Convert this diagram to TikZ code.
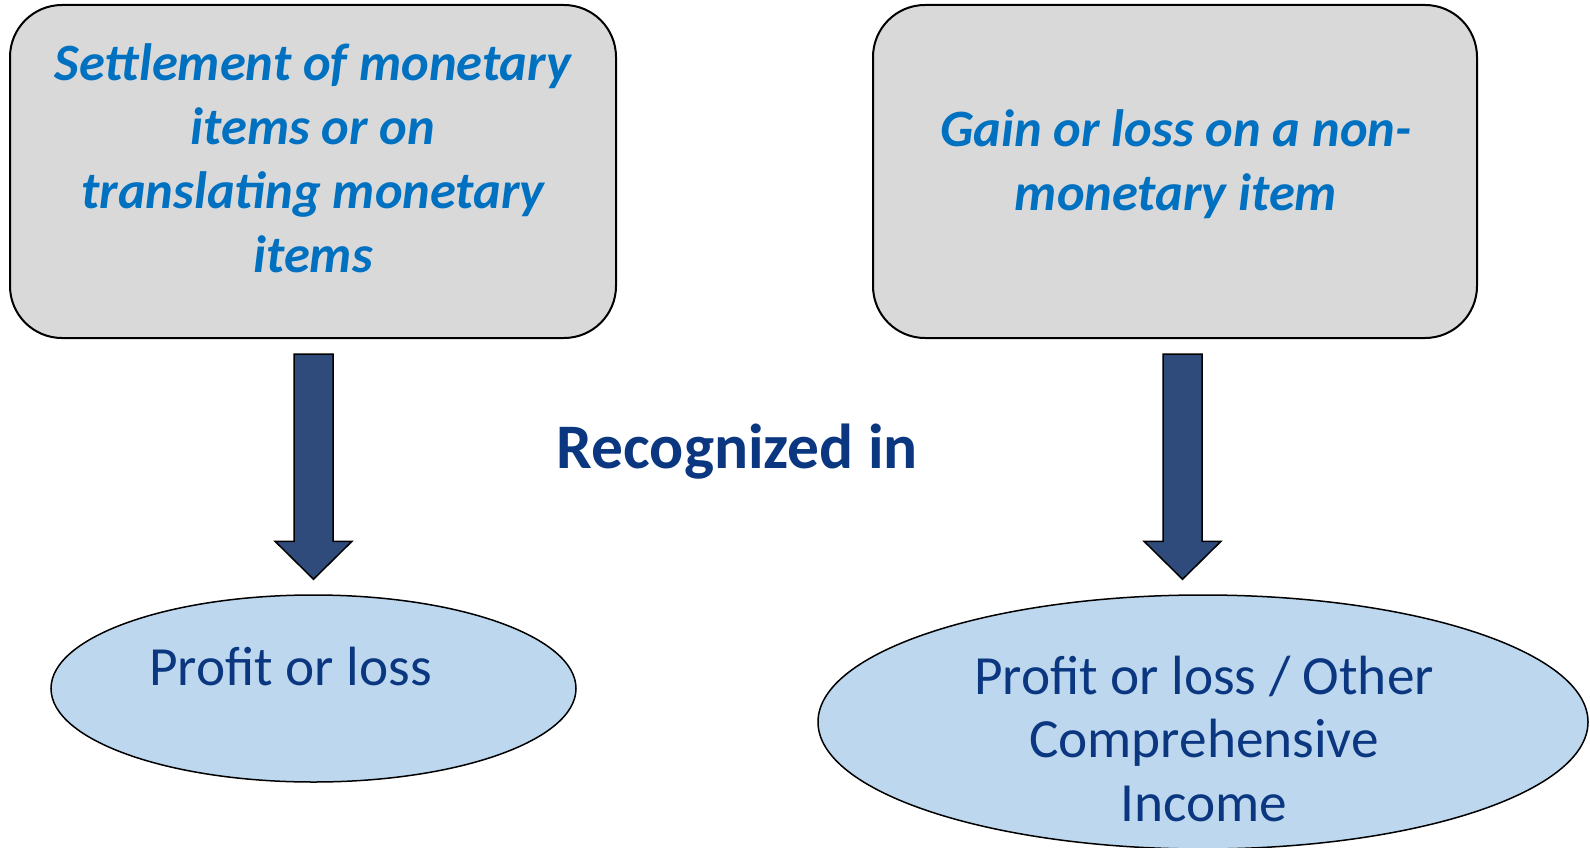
\documentclass[tikz,border=0pt]{standalone}
\usepackage{fontspec}
\setmainfont{Carlito}
\usetikzlibrary{calc,shapes.geometric}
\definecolor{boxgray}{HTML}{D9D9D9}
\definecolor{boxblue}{HTML}{0070C0}
\definecolor{ellfill}{HTML}{BDD7EE}
\definecolor{navy}{HTML}{0A3780}
\definecolor{arrowfill}{HTML}{2F4B7C}
\tikzset{
  srcbox/.style={draw=black, line width=2pt, fill=boxgray, rounded corners=52pt, inner sep=0pt},
  srctext/.style={text=boxblue, font=\fontsize{52.5}{64}\selectfont\bfseries\itshape, align=center, inner sep=0pt},
  dest/.style={ellipse, draw=black, line width=1.5pt, fill=ellfill, inner sep=0pt},
  desttext/.style={text=navy, font=\fontsize{55.3}{63.5}\selectfont, align=center, inner sep=0pt},
  bigarrow/.style={draw=black, line width=1.5pt, fill=arrowfill, line join=miter},
  midtext/.style={text=navy, font=\fontsize{63.5}{70}\selectfont\bfseries, inner sep=0pt}
}
\begin{document}
\begin{tikzpicture}[x=1pt,y=-1pt]
\useasboundingbox (0,0) rectangle (1590,848);
% source boxes
\node[srcbox, minimum width=606pt, minimum height=333pt] (b1) at (313,171.5) {};
\node[srcbox, minimum width=604pt, minimum height=333pt] (b2) at (1175,171.5) {};
\node[srctext, anchor=base] (t1) at (313,272) {Settlement of monetary\\items or on\\translating monetary\\items};
\node[srctext, anchor=base] (t2) at (1176,210) {Gain or loss on a non-\\monetary item};
% destination ellipses
\node[dest, minimum width=525pt, minimum height=187pt] (e1) at (313.5,688.5) {};
\node[dest, minimum width=770pt, minimum height=254pt] (e2) at (1203,722) {};
\node[desttext, anchor=base] (d1) at (290.5,685) {Profit or loss};
\node[desttext, anchor=base] (d2) at (1204,821) {Profit or loss / Other\\Comprehensive\\Income};
% middle label
\node[midtext, anchor=base] (rec) at (737.5,468) {Recognized in};
% arrows
\coordinate (a1) at ($(b1.south)+(0.5,15)$);
\coordinate (a1tip) at ($(e1.north)+(0,-15)$);
\draw[bigarrow] ($(a1)+(-19.5,0)$) -- ($(a1)+(19.5,0)$) -- ($(a1tip)+(19.5,-38)$) -- ($(a1tip)+(38.5,-38)$) -- (a1tip) -- ($(a1tip)+(-38.5,-38)$) -- ($(a1tip)+(-19.5,-38)$) -- cycle;
\coordinate (a2) at ($(b2.south)+(7.5,15)$);
\coordinate (a2tip) at ($(e2.north)+(-20.5,-15)$);
\draw[bigarrow] ($(a2)+(-19.5,0)$) -- ($(a2)+(19.5,0)$) -- ($(a2tip)+(19.5,-38)$) -- ($(a2tip)+(38.5,-38)$) -- (a2tip) -- ($(a2tip)+(-38.5,-38)$) -- ($(a2tip)+(-19.5,-38)$) -- cycle;
\end{tikzpicture}
\end{document}
